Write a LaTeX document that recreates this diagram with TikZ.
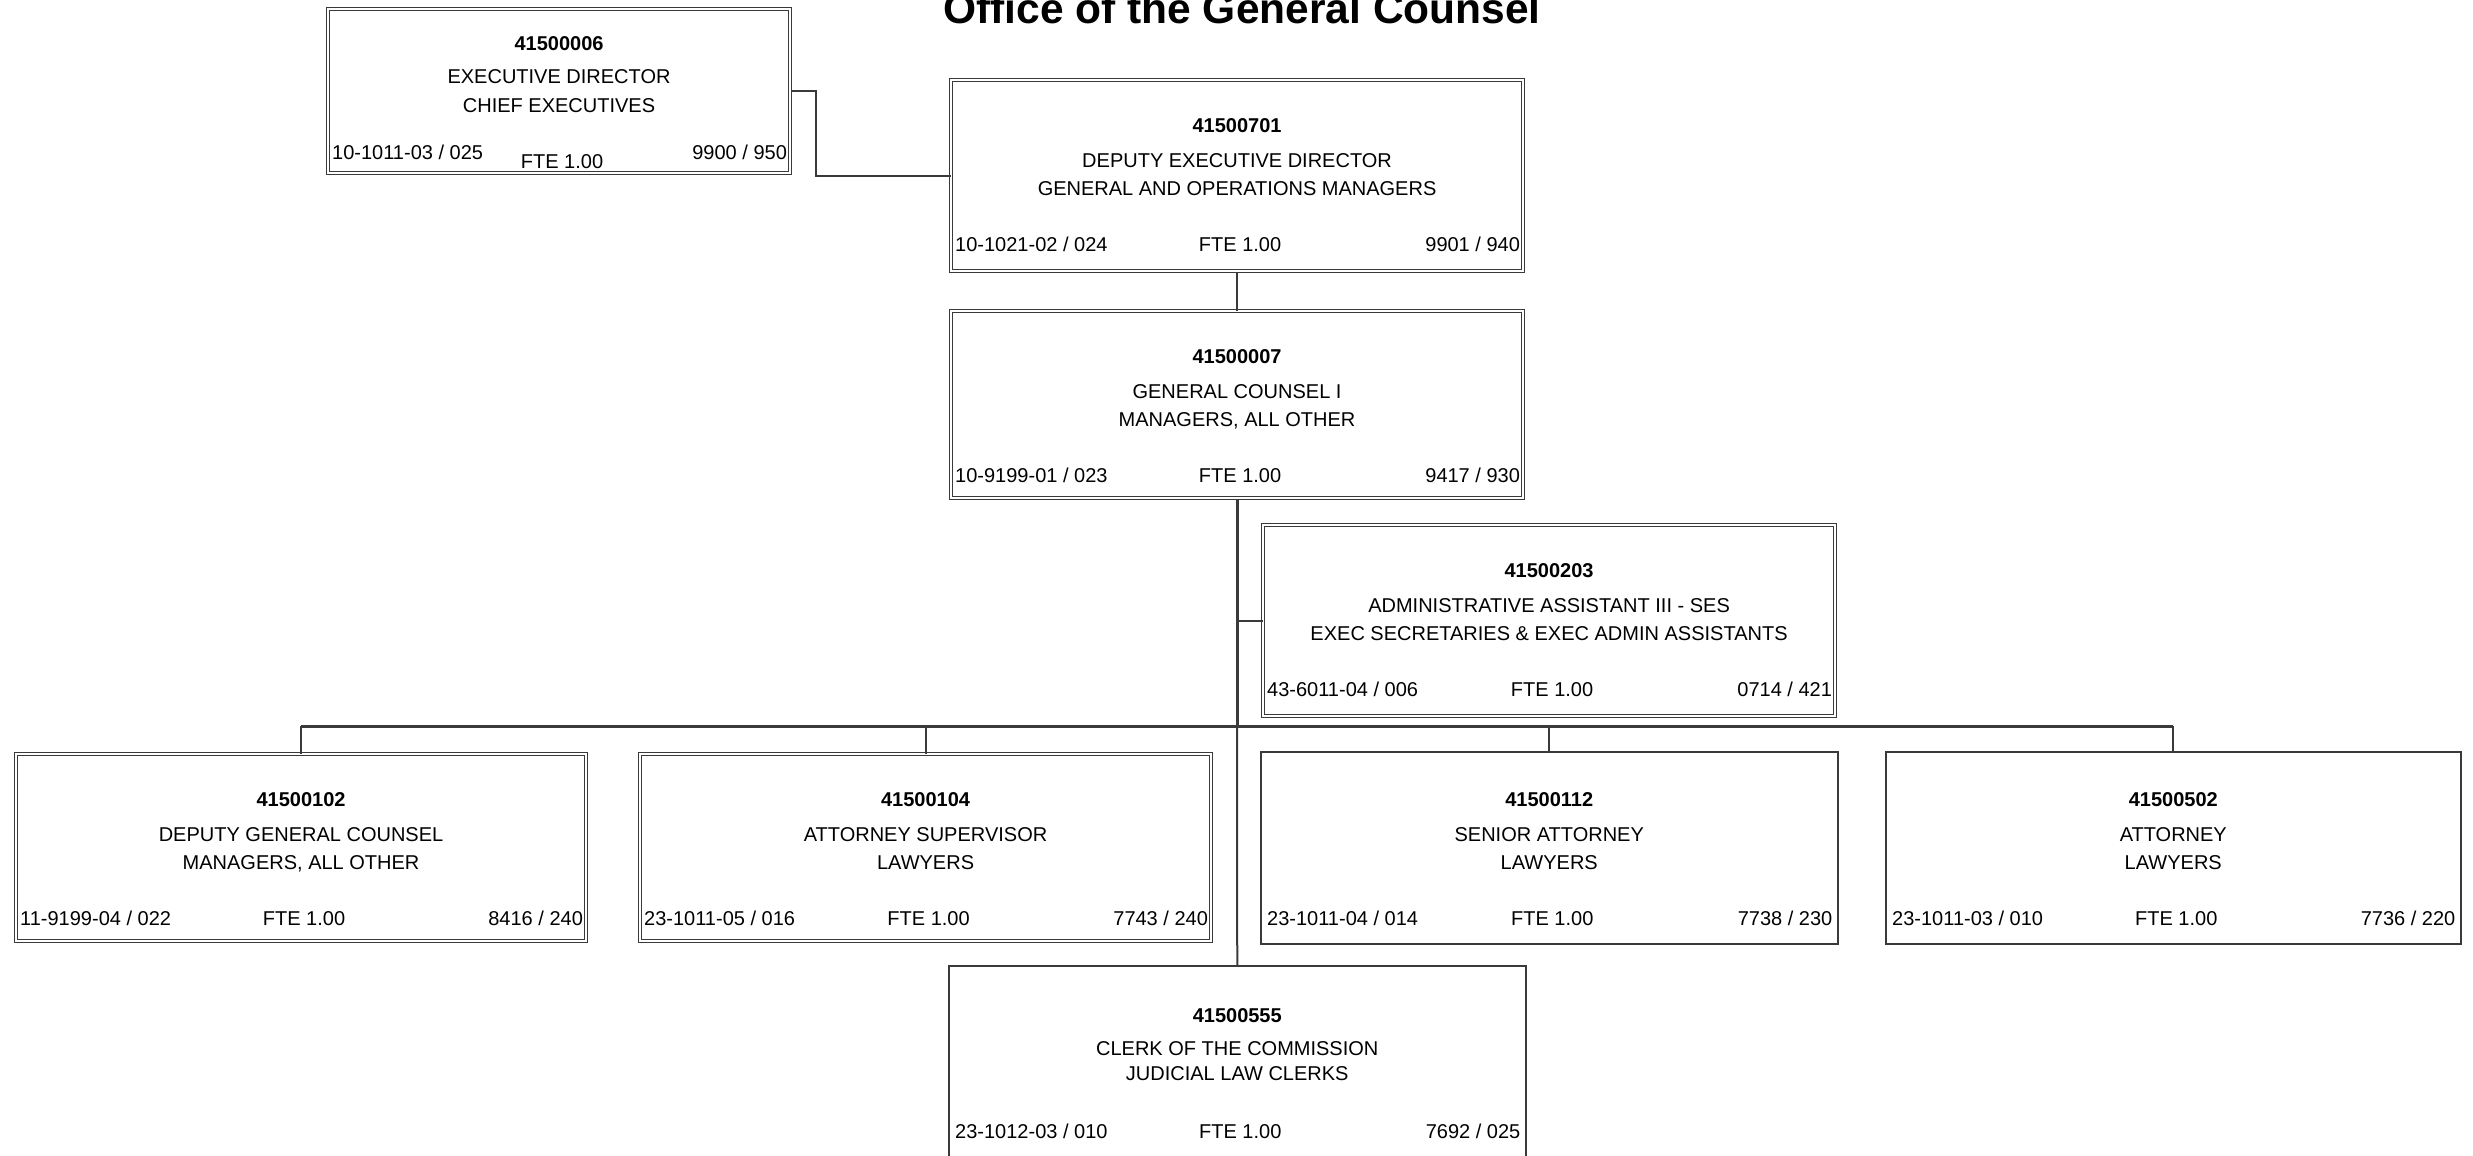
\documentclass[tikz,border=0pt]{standalone}
\usepackage{fontspec}
\setmainfont{Liberation Sans}
\definecolor{linegray}{RGB}{58,58,58}
% offsets (from the edges of a card) of the texts
\def\oNum{53}\def\oTa{87.5}\def\oTb{116}\def\oBot{172}\def\oFte{172}
\def\oL{4.5}\def\oR{3.5}
% text of one position card: name, number, title, class, code, budget
\newcommand\cardtext[6]{%
  \node[numtext, anchor=base] (#1-num) at ([yshift=-\oNum pt]#1.north) {#2};
  \node[anchor=base] (#1-ta) at ([yshift=-\oTa pt]#1.north) {#3};
  \node[anchor=base] (#1-tb) at ([yshift=-\oTb pt]#1.north) {#4};
  \node[anchor=base west] (#1-code) at ([xshift=\oL pt,yshift=-\oBot pt]#1.north west) {#5};
  \node[anchor=base] (#1-fte) at ([xshift=3pt,yshift=-\oFte pt]#1.north) {FTE 1.00};
  \node[anchor=base east] (#1-bud) at ([xshift=-\oR pt,yshift=-\oBot pt]#1.north east) {#6};
}
\begin{document}
\begin{tikzpicture}[x=1pt,y=-1pt,
  every node/.style={font=\fontsize{20}{24}\selectfont, text=black, inner sep=0pt},
  numtext/.style={font=\fontsize{20}{24}\selectfont\bfseries},
  card/.style={rectangle, anchor=north west, draw=linegray, line width=1.5pt,
    minimum width=577, minimum height=193},
  dblcard/.style={card, line width=1.1pt, double=white, double distance=2.6pt},
  conn/.style={draw=linegray, line width=2pt},
  trunk/.style={draw=linegray, line width=3pt}]
\useasboundingbox (0,0) rectangle (2473,1156);

% title
\node[font=\fontsize{42.5}{50}\selectfont\bfseries, anchor=base] (title) at (1242,24)
  {Office of the General Counsel};

% cards with a double frame (the path runs along the middle of the frame)
\node[dblcard, minimum width=462, minimum height=164] (A) at (327.5,8.5) {};
\node[dblcard, minimum width=572, minimum height=191] (B) at (950.5,79.5) {};
\node[dblcard, minimum width=572, minimum height=187] (C) at (950.5,310.5) {};
\node[dblcard, minimum width=572, minimum height=191] (D) at (1262.5,524.5) {};
\node[dblcard, minimum width=570, minimum height=187] (E) at (15.5,753.5) {};
\node[dblcard, minimum width=571, minimum height=187] (F) at (639.5,753.5) {};
% cards with a single frame
\node[card, minimum width=577, minimum height=192] (G) at (1260,751) {};
\node[card, minimum width=575, minimum height=192] (H) at (1885,751) {};
\node[card, minimum height=200] (I) at (948,965) {};

% card texts
{\def\oNum{42}\def\oTa{75}\def\oTb{103.5}\def\oBot{151}\def\oFte{160}
\cardtext{A}{41500006}{EXECUTIVE DIRECTOR}{CHIEF EXECUTIVES}{10-1011-03 / 025}{9900 / 950}}
\cardtext{B}{41500701}{DEPUTY EXECUTIVE DIRECTOR}{GENERAL AND OPERATIONS MANAGERS}{10-1021-02 / 024}{9901 / 940}
\cardtext{C}{41500007}{GENERAL COUNSEL I}{MANAGERS, ALL OTHER}{10-9199-01 / 023}{9417 / 930}
\cardtext{D}{41500203}{ADMINISTRATIVE ASSISTANT III - SES}{EXEC SECRETARIES \& EXEC ADMIN ASSISTANTS}{43-6011-04 / 006}{0714 / 421}
\cardtext{E}{41500102}{DEPUTY GENERAL COUNSEL}{MANAGERS, ALL OTHER}{11-9199-04 / 022}{8416 / 240}
\cardtext{F}{41500104}{ATTORNEY SUPERVISOR}{LAWYERS}{23-1011-05 / 016}{7743 / 240}
{\def\oNum{55.5}\def\oTa{90}\def\oTb{118.5}\def\oBot{174.5}\def\oFte{174.5}
\def\oL{7}\def\oR{6}
\cardtext{G}{41500112}{SENIOR ATTORNEY}{LAWYERS}{23-1011-04 / 014}{7738 / 230}
\cardtext{H}{41500502}{ATTORNEY}{LAWYERS}{23-1011-03 / 010}{7736 / 220}}
{\def\oNum{57}\def\oTa{90}\def\oTb{115.5}\def\oBot{173.5}\def\oFte{173.5}
\def\oL{7}\def\oR{6}
\cardtext{I}{41500555}{CLERK OF THE COMMISSION}{JUDICIAL LAW CLERKS}{23-1012-03 / 010}{7692 / 025}}

% connectors
\coordinate (bus) at (C.south |- 0,726);
\draw[conn] (A.east) -- ++(25,0) |- (B.west);
\draw[conn] (B.south) -- (C.north);
\draw[trunk] (C.south) -- (bus);
\draw[conn] (bus) -- (I.north);
\draw[conn] (D.west) -- (D.west -| C.south);
\draw[trunk] (E.north |- bus) -- (H.north |- bus);
\draw[conn] (E.north |- bus) -- (E.north);
\draw[conn] (F.north |- bus) -- (F.north);
\draw[conn] (G.north |- bus) -- (G.north);
\draw[conn] (H.north |- bus) -- (H.north);
\end{tikzpicture}
\end{document}
